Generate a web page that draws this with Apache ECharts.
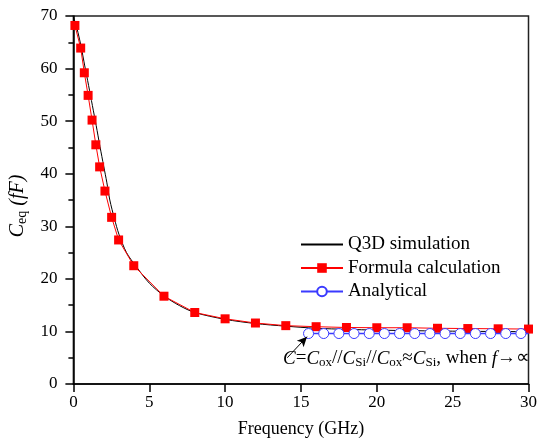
<!DOCTYPE html>
<html>
<head>
<meta charset="utf-8">
<script src="https://cdn.jsdelivr.net/npm/echarts@6/dist/echarts.min.js"></script>
<style>
html, body { margin: 0; padding: 0; background: #fff; }
#chart { width: 540px; height: 443px; }
</style>
</head>
<body>
<div id="chart"></div>
<script>
// Q3D simulation curve
var q3dFreq = [0, 0.15, 0.3, 0.5, 0.75, 1.0, 1.25, 1.5, 1.75, 2.0, 2.2, 2.4, 2.7, 3.0, 3.5, 4.1, 5.0, 6.0, 7.0, 8.0, 10, 12, 14, 16, 18, 20, 25, 30];
var q3dCap  = [69.8, 68.5, 66.9, 64.3, 60.5, 56.8, 53.0, 49.2, 45.2, 41.4, 38.4, 35.0, 31.5, 28.5, 25.0, 22.5, 19.2, 16.7, 14.9, 13.6, 12.3, 11.5, 11.0, 10.6, 10.4, 10.25, 10.05, 9.95];

// Formula calculation points
var formulaFreq = [0.1, 0.48, 0.72, 0.97, 1.23, 1.48, 1.73, 2.08, 2.52, 2.98, 3.98, 5.97, 8, 10, 12, 14, 16, 18, 20, 22, 24, 26, 28, 30];
var formulaCap  = [68.2, 63.9, 59.2, 54.9, 50.2, 45.5, 41.3, 36.7, 31.7, 27.4, 22.5, 16.7, 13.6, 12.4, 11.6, 11.1, 10.9, 10.75, 10.7, 10.7, 10.6, 10.55, 10.5, 10.45];

// Analytical (high-frequency limit)
var analyticalFreq = [15.5, 16.5, 17.5, 18.5, 19.5, 20.5, 21.5, 22.5, 23.5, 24.5, 25.5, 26.5, 27.5, 28.5, 29.5, 30];
var analyticalCap  = [9.6, 9.6, 9.6, 9.6, 9.6, 9.6, 9.6, 9.6, 9.6, 9.6, 9.6, 9.6, 9.6, 9.6, 9.6, 9.6];

// arrow of the annotation, in data units
var arrowFrom = [14.1, 5.0];
var arrowTo = [15.4, 9.0];

function pairs(xs, ys) {
  var out = [];
  for (var i = 0; i < xs.length; i++) out.push([xs[i], ys[i]]);
  return out;
}

var serif = 'Liberation Serif';
var analyticalData = pairs(analyticalFreq, analyticalCap).map(function (p, i) {
  // last point only carries the line to the frame
  return i === analyticalFreq.length - 1 ? { value: p, symbol: 'none' } : p;
});

var myChart = echarts.init(document.getElementById('chart'));
myChart.setOption({
  animation: false,
  grid: {
    left: 73, right: 10, top: 16, bottom: 59,
    show: true, borderColor: '#222', borderWidth: 1.5, backgroundColor: 'transparent'
  },
  legend: {
    orient: 'vertical',
    left: 295,
    top: 230,
    itemWidth: 42,
    itemHeight: 12,
    itemGap: 4.5,
    textStyle: { fontFamily: serif, fontSize: 19, color: '#000' },
    data: [
      { name: 'Q3D simulation', itemStyle: { opacity: 0 } },
      'Formula calculation',
      'Analytical'
    ]
  },
  xAxis: {
    type: 'value',
    min: 0, max: 30, interval: 5,
    name: 'Frequency (GHz)',
    nameLocation: 'middle',
    nameGap: 36,
    nameTextStyle: { fontFamily: serif, fontSize: 18, color: '#000' },
    axisLine: { lineStyle: { color: '#000', width: 1.5 } },
    axisTick: { length: 8, lineStyle: { color: '#000', width: 1.5 } },
    axisLabel: { fontFamily: serif, fontSize: 17, color: '#000', margin: 10 },
    splitLine: { show: false }
  },
  yAxis: {
    type: 'value',
    min: 0, max: 70, interval: 10,
    name: '{i|C}{s|eq} {i|(fF)}',
    nameLocation: 'middle',
    nameGap: 40,
    nameTextStyle: {
      fontFamily: serif, fontSize: 20, color: '#000',
      padding: [0, 12, 0, 0],
      rich: {
        i: { fontFamily: serif, fontSize: 20, fontStyle: 'italic', lineHeight: 23, color: '#000' },
        s: { fontFamily: serif, fontSize: 14, lineHeight: 14, verticalAlign: 'bottom', color: '#000' }
      }
    },
    axisLine: { lineStyle: { color: '#000', width: 1.5 } },
    axisTick: { length: 8, lineStyle: { color: '#000', width: 1.5 } },
    minorTick: { show: true, splitNumber: 2, length: 5, lineStyle: { color: '#000', width: 1.5 } },
    axisLabel: { fontFamily: serif, fontSize: 17, color: '#000', margin: 16 },
    splitLine: { show: false }
  },
  series: [{
    name: 'Q3D simulation',
    type: 'line',
    smooth: 0.3,
    showSymbol: false,
    symbol: 'none',
    lineStyle: { color: '#000', width: 1 },
    itemStyle: { color: '#000' },
    data: pairs(q3dFreq, q3dCap),
    z: 2
  }, {
    name: 'Formula calculation',
    type: 'line',
    symbol: 'rect',
    symbolSize: 9,
    lineStyle: { color: '#ff0000', width: 1 },
    itemStyle: { color: '#ff0000' },
    data: pairs(formulaFreq, formulaCap),
    z: 3
  }, {
    name: 'Analytical',
    type: 'line',
    symbol: 'circle',
    symbolSize: 10,
    lineStyle: { color: '#3a3aff', width: 1.5 },
    itemStyle: { color: '#fff', borderColor: '#3a3aff', borderWidth: 1 },
    data: analyticalData,
    z: 4,
    markLine: {
      silent: true,
      symbol: ['none', 'arrow'],
      symbolSize: [7, 10],
      label: { show: false },
      lineStyle: { color: '#000', width: 1, type: 'solid' },
      data: [[{ coord: arrowFrom }, { coord: arrowTo }]]
    }
  }],
  graphic: [{
    type: 'text',
    left: 283,
    top: 349,
    style: {
      text: '{i|C}{m|=}{i|C}{s|ox}{m|//}{i|C}{s|Si}{m|//}{i|C}{s|ox}{m|≈}{i|C}{s|Si}{m|, when }{i|f}{m|→∝}',
      rich: {
        m: { fontFamily: serif, fontSize: 19, lineHeight: 22, fill: '#000' },
        i: { fontFamily: serif, fontSize: 19, fontStyle: 'italic', lineHeight: 22, fill: '#000' },
        s: { fontFamily: serif, fontSize: 13, lineHeight: 12, verticalAlign: 'bottom', fill: '#000' }
      }
    }
  }]
});
</script>
</body>
</html>
